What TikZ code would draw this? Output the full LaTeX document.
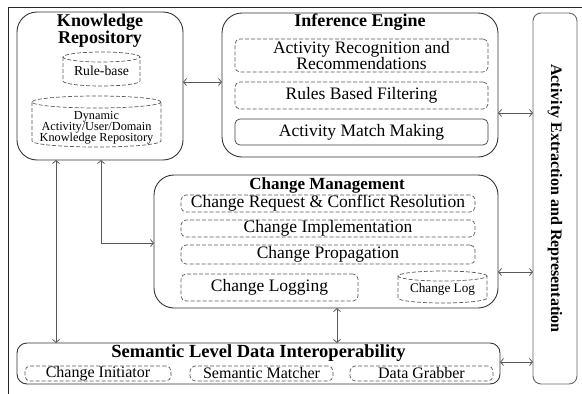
\documentclass[tikz,border=0pt]{standalone}
\usepackage{fontspec}
\setmainfont{Liberation Serif}
\usetikzlibrary{arrows.meta}
\newcommand\mycyl[5]{%
  \draw[dsh] (#1,-#3-#5) -- (#1,-#4+#5) arc[start angle=180,end angle=360,x radius={(#2-#1)/2},y radius=#5] -- (#2,-#3-#5);
  \draw[dsh] ({(#1+#2)/2},-#3-#5) ellipse [x radius={(#2-#1)/2},y radius=#5];}
\begin{document}
\begin{tikzpicture}[x=1pt,y=1pt,
  big/.style={draw=black!80, line width=0.9pt, rounded corners=20pt, inner sep=0pt, outer sep=0pt, anchor=north west},
  sub/.style={draw=black!65, dashed, dash pattern=on 4pt off 2pt, line width=0.7pt, rounded corners=5pt, inner sep=0pt, outer sep=0pt, anchor=north west},
  dsh/.style={draw=black!65, dash pattern=on 4pt off 2pt, line width=0.7pt},
  ttl/.style={font=\fontsize{18}{18}\selectfont\bfseries, align=center, inner sep=0pt},
  txt/.style={font=\fontsize{17.5}{15}\selectfont, align=center, inner sep=0pt},
  stxt/.style={font=\fontsize{16}{16}\selectfont, inner sep=0pt},
  dbl/.style={draw=black!65, line width=0.8pt, <->, >={Straight Barb[length=3pt,width=7pt]}},
  one/.style={draw=black!65, line width=0.8pt}
]
\useasboundingbox (0,0) rectangle (582,-394);
% frame
\draw[black!85, line width=0.9pt] (582,-7) -- (8,-7) -- (8,-394);

% Knowledge Repository
\node[big, minimum width=166pt, minimum height=148pt] (kr) at (17,-12) {};
\node[ttl] (krt) at (100,-31) {Knowledge\\[-1pt]Repository};
\mycyl{63}{140}{52}{86}{5}
\node[font=\fontsize{13.75}{14}\selectfont, inner sep=0pt] (rb) at (101.5,-71) {Rule-base};
\mycyl{32}{161}{96}{147}{6}
\node[font=\fontsize{12.3}{11.2}\selectfont, align=center, inner sep=0pt] (dyn) at (96.5,-128) {Dynamic\\Activity/User/Domain\\Knowledge Repository};

% Inference Engine
\node[big, minimum width=276pt, minimum height=144pt] (ie) at (222,-13) {};
\node[ttl] (iet) at (360,-22) {Inference Engine};
\node[sub, minimum width=253pt, minimum height=33pt] (arr) at (235,-39) {};
\node[txt] at (arr.center) {Activity Recognition and\\Recommendations};
\node[sub, minimum width=253pt, minimum height=27pt] (rbf) at (235,-82) {};
\node[txt] at (rbf.center) {Rules Based Filtering};
\node[sub, solid, draw=black!75, minimum width=253pt, minimum height=26pt] (amm) at (235,-119) {};
\node[txt] at (amm.center) {Activity Match Making};

% Change Management
\node[big, minimum width=344pt, minimum height=133pt] (cm) at (154,-175) {};
\node[ttl, font=\fontsize{17}{17}\selectfont\bfseries] (cmt) at (327,-185) {Change Management};
\node[sub, minimum width=294pt, minimum height=17pt] (crcr) at (181,-195) {};
\node[txt] at (crcr.center) {Change Request \& Conflict Resolution};
\node[sub, minimum width=294pt, minimum height=17pt] (cimp) at (181,-220) {};
\node[txt] at (cimp.center) {Change Implementation};
\node[sub, minimum width=294pt, minimum height=19pt] (cp) at (181,-245) {};
\node[txt] at (cp.center) {Change Propagation};
\node[sub, minimum width=177pt, minimum height=27pt] (cl) at (181,-274) {};
\node[txt] at (cl.center) {Change Logging};
\mycyl{398}{487}{271}{303}{5}
\node[font=\fontsize{13.2}{14}\selectfont, inner sep=0pt] (clog) at (442.5,-289) {Change Log};

% Semantic Level Data Interoperability
\node[big, rounded corners=10pt, minimum width=483pt, minimum height=41pt] (sl) at (17,-343) {};
\node[ttl, font=\fontsize{18.5}{18}\selectfont\bfseries] (slt) at (258.5,-353) {Semantic Level Data Interoperability};
\node[sub, minimum width=146pt, minimum height=15pt] (ci) at (25,-366) {};
\node[stxt] at (ci.center) {Change Initiator};
\node[sub, minimum width=143pt, minimum height=15pt] (sm) at (190,-366) {};
\node[stxt] at (sm.center) {Semantic Matcher};
\node[sub, minimum width=143pt, minimum height=15pt] (dg) at (350,-366) {};
\node[stxt] at (dg.center) {Data Grabber};

% Activity Extraction and Representation
\node[big, draw=black!60, rounded corners=8pt, minimum width=44pt, minimum height=371pt] (aer) at (533,-13) {};
\node[font=\fontsize{16}{16}\selectfont\bfseries, rotate=-90, inner sep=0pt] (aert) at (aer.center) {Activity Extraction and Representation};

% connectors
\draw[dbl] (kr.east |- 0,-82) -- (ie.west |- 0,-82);
\draw[dbl] (ie.east |- 0,-113) -- (aer.west |- 0,-113);
\draw[dbl] (cm.east |- 0,-272) -- (aer.west |- 0,-272);
\draw[dbl] (sl.east |- 0,-362) -- (aer.west |- 0,-362);
\draw[dbl] (kr.south -| 56,0) -- (sl.north -| 56,0);
\draw[dbl] (kr.south -| 101,0) |- (cm.west |- 0,-243);
\draw[dbl] (cm.south -| 337,0) -- (sl.north -| 337,0);
\end{tikzpicture}
\end{document}
